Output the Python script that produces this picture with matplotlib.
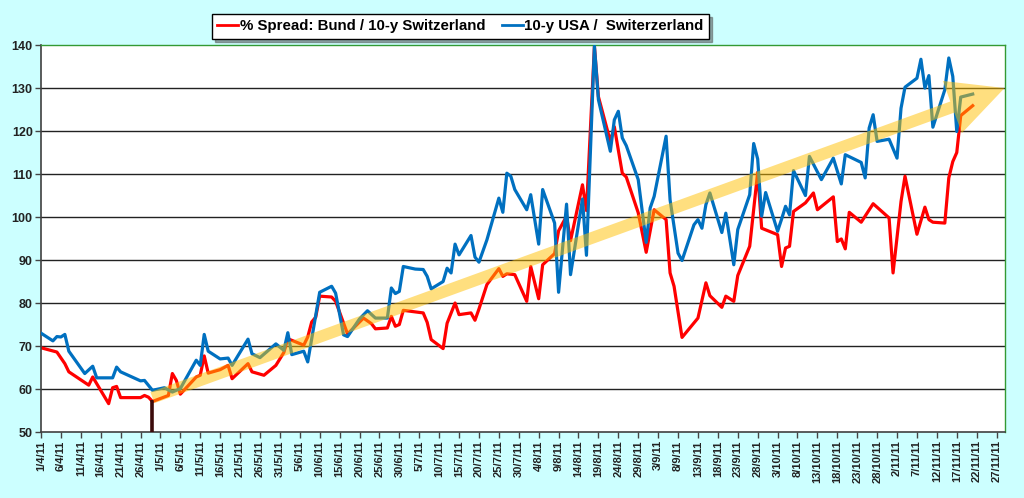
import pandas as pd
import matplotlib
matplotlib.use('Agg')
import matplotlib.pyplot as plt
import matplotlib.dates as mdates
from matplotlib.patches import FancyArrowPatch, ArrowStyle

# --- data (business days, 2011) ---
red_dates = [
    "2011-04-01", "2011-04-05", "2011-04-07", "2011-04-08", "2011-04-13", "2011-04-14",
    "2011-04-18", "2011-04-19", "2011-04-20", "2011-04-21", "2011-04-26", "2011-04-27",
    "2011-04-28", "2011-04-29", "2011-05-03", "2011-05-04", "2011-05-05", "2011-05-06",
    "2011-05-10", "2011-05-11", "2011-05-12", "2011-05-13", "2011-05-16", "2011-05-18",
    "2011-05-19", "2011-05-23", "2011-05-24", "2011-05-27", "2011-05-30", "2011-06-01",
    "2011-06-02", "2011-06-06", "2011-06-07", "2011-06-08", "2011-06-09", "2011-06-10",
    "2011-06-13", "2011-06-14", "2011-06-17", "2011-06-21", "2011-06-23", "2011-06-24",
    "2011-06-27", "2011-06-28", "2011-06-29", "2011-06-30", "2011-07-01", "2011-07-06",
    "2011-07-07", "2011-07-08", "2011-07-11", "2011-07-12", "2011-07-14", "2011-07-15",
    "2011-07-18", "2011-07-19", "2011-07-20", "2011-07-22", "2011-07-25", "2011-07-26",
    "2011-07-27", "2011-07-29", "2011-08-01", "2011-08-02", "2011-08-04", "2011-08-05",
    "2011-08-08", "2011-08-09", "2011-08-11", "2011-08-12", "2011-08-15", "2011-08-16",
    "2011-08-18", "2011-08-19", "2011-08-22", "2011-08-23", "2011-08-25", "2011-08-26",
    "2011-08-29", "2011-08-31", "2011-09-02", "2011-09-05", "2011-09-06", "2011-09-07",
    "2011-09-09", "2011-09-13", "2011-09-15", "2011-09-16", "2011-09-19", "2011-09-20",
    "2011-09-22", "2011-09-23", "2011-09-26", "2011-09-28", "2011-09-29", "2011-10-03",
    "2011-10-04", "2011-10-05", "2011-10-06", "2011-10-07", "2011-10-10", "2011-10-12",
    "2011-10-13", "2011-10-17", "2011-10-18", "2011-10-19", "2011-10-20", "2011-10-21",
    "2011-10-24", "2011-10-27", "2011-10-31", "2011-11-01", "2011-11-03", "2011-11-04",
    "2011-11-07", "2011-11-09", "2011-11-10", "2011-11-11", "2011-11-14", "2011-11-15",
    "2011-11-16", "2011-11-17", "2011-11-18", "2011-11-21",
]
red_vals = [
    69.6, 68.6, 65.9, 64.0, 60.9, 62.8,
    56.6, 60.3, 60.6, 58.0, 58.0, 58.5,
    58.1, 57.1, 58.5, 63.6, 62.0, 58.8,
    62.8, 63.2, 67.7, 63.7, 64.5, 65.5,
    62.4, 65.9, 64.0, 63.2, 65.5, 68.5,
    71.7, 70.2, 72.1, 75.6, 76.7, 81.6,
    81.4, 80.4, 72.8, 76.5, 75.2, 74.0,
    74.2, 76.9, 74.6, 75.0, 78.3, 77.7,
    75.5, 71.5, 69.4, 75.3, 80.0, 77.3,
    77.7, 76.0, 78.6, 84.3, 88.0, 86.2,
    86.8, 86.6, 80.4, 88.5, 81.0, 88.9,
    91.5, 96.8, 100.2, 94.5, 107.5, 101.5,
    139.7, 128.0, 117.6, 121.0, 110.2, 109.3,
    101.0, 91.8, 101.7, 99.4, 87.0, 83.9,
    72.0, 76.5, 84.7, 81.7, 79.0, 81.6,
    80.4, 86.4, 93.2, 110.4, 97.4, 95.9,
    88.5, 92.8, 93.2, 101.3, 103.3, 105.6,
    101.7, 104.7, 94.3, 94.9, 92.6, 101.1,
    98.8, 103.1, 99.8, 87.0, 103.6, 109.5,
    96.0, 102.3, 99.4, 98.8, 98.6, 109.1,
    112.9, 115.0, 123.6, 125.9,
]

blue_dates = [
    "2011-04-01", "2011-04-04", "2011-04-05", "2011-04-06", "2011-04-07", "2011-04-08",
    "2011-04-12", "2011-04-14", "2011-04-15", "2011-04-19", "2011-04-20", "2011-04-21",
    "2011-04-26", "2011-04-27", "2011-04-29", "2011-05-02", "2011-05-04", "2011-05-06",
    "2011-05-10", "2011-05-11", "2011-05-12", "2011-05-13", "2011-05-16", "2011-05-18",
    "2011-05-19", "2011-05-23", "2011-05-24", "2011-05-26", "2011-05-30", "2011-06-01",
    "2011-06-02", "2011-06-03", "2011-06-06", "2011-06-07", "2011-06-10", "2011-06-13",
    "2011-06-14", "2011-06-16", "2011-06-17", "2011-06-20", "2011-06-22", "2011-06-24",
    "2011-06-27", "2011-06-28", "2011-06-29", "2011-06-30", "2011-07-01", "2011-07-04",
    "2011-07-06", "2011-07-07", "2011-07-08", "2011-07-11", "2011-07-12", "2011-07-13",
    "2011-07-14", "2011-07-15", "2011-07-18", "2011-07-19", "2011-07-20", "2011-07-22",
    "2011-07-25", "2011-07-26", "2011-07-27", "2011-07-28", "2011-07-29", "2011-08-01",
    "2011-08-02", "2011-08-04", "2011-08-05", "2011-08-08", "2011-08-09", "2011-08-11",
    "2011-08-12", "2011-08-15", "2011-08-16", "2011-08-18", "2011-08-19", "2011-08-22",
    "2011-08-23", "2011-08-24", "2011-08-25", "2011-08-26", "2011-08-29", "2011-08-31",
    "2011-09-01", "2011-09-02", "2011-09-05", "2011-09-06", "2011-09-08", "2011-09-09",
    "2011-09-12", "2011-09-13", "2011-09-14", "2011-09-15", "2011-09-16", "2011-09-19",
    "2011-09-20", "2011-09-22", "2011-09-23", "2011-09-26", "2011-09-27", "2011-09-28",
    "2011-09-29", "2011-09-30", "2011-10-03", "2011-10-04", "2011-10-05", "2011-10-06",
    "2011-10-07", "2011-10-10", "2011-10-11", "2011-10-14", "2011-10-17", "2011-10-19",
    "2011-10-20", "2011-10-24", "2011-10-25", "2011-10-26", "2011-10-27", "2011-10-28",
    "2011-10-31", "2011-11-02", "2011-11-03", "2011-11-04", "2011-11-07", "2011-11-08",
    "2011-11-09", "2011-11-10", "2011-11-11", "2011-11-14", "2011-11-15", "2011-11-16",
    "2011-11-17", "2011-11-18", "2011-11-21",
]
blue_vals = [
    73.0, 71.2, 72.2, 72.1, 72.7, 68.8,
    63.6, 65.3, 62.6, 62.6, 65.1, 64.0,
    61.9, 62.0, 59.7, 60.3, 59.3, 60.1,
    66.7, 65.5, 72.7, 68.8, 67.0, 67.2,
    65.5, 71.6, 68.2, 67.3, 70.5, 69.0,
    73.1, 68.0, 68.8, 66.3, 82.5, 83.9,
    82.3, 72.6, 72.2, 76.3, 78.2, 76.5,
    76.5, 83.5, 82.2, 82.7, 88.5, 87.9,
    87.8, 86.2, 83.3, 85.0, 88.1, 87.0,
    93.7, 91.2, 95.7, 90.7, 89.5, 94.7,
    104.4, 101.1, 110.2, 109.5, 106.4, 101.7,
    105.2, 93.7, 106.4, 98.6, 82.5, 103.0,
    86.6, 104.2, 91.1, 139.7, 127.3, 115.3,
    122.6, 124.6, 118.4, 116.6, 108.7, 94.1,
    102.1, 104.8, 118.8, 104.0, 91.6, 89.9,
    98.2, 99.4, 97.4, 102.9, 105.6, 96.4,
    100.9, 88.9, 97.1, 105.2, 117.1, 113.5,
    100.2, 105.7, 96.7, 99.5, 102.5, 100.5,
    110.8, 105.0, 114.1, 108.7, 113.7, 107.7,
    114.5, 112.7, 109.1, 120.7, 123.8, 117.6,
    118.1, 113.7, 125.3, 130.2, 132.3, 136.7,
    130.0, 132.9, 120.9, 129.6, 137.0, 132.7,
    119.9, 127.9, 128.6,
]

red_label = "% Spread: Bund / 10-y Switzerland"
blue_label = "10-y USA /  Switerzerland"

# trend arrow (start -> end) and the small dark marker line
arrow_start = ("2011-04-29", 58.0)
arrow_end = ("2011-11-29", 130.0)
marker_date = "2011-04-29"
marker_range = (50, 57.5)

tick_start, tick_end = "2011-04-01", "2011-11-27"
x_min, x_max = "2011-04-01", "2011-11-29"
y_min, y_max, y_step = 50, 140, 10

plt.rcParams['font.family'] = ['Liberation Sans', 'DejaVu Sans']

fig = plt.figure(figsize=(10.24, 4.98), dpi=100, facecolor='#CCFFFF')
ax = fig.add_axes([0.040, 0.1325, 0.941, 0.777])
ax.set_facecolor('white')

rd = pd.to_datetime(red_dates)
bd = pd.to_datetime(blue_dates)

for y in range(y_min + y_step, y_max, y_step):
    ax.axhline(y, color='#222222', lw=1.0, zorder=1)

ax.plot(bd, blue_vals, color='#0070C0', lw=2.3, label=blue_label, zorder=3,
        solid_joinstyle='round')
ax.plot(rd, red_vals, color='#FF0000', lw=2.3, label=red_label, zorder=2,
        solid_joinstyle='round')

ax.vlines(pd.Timestamp(marker_date), marker_range[0], marker_range[1],
          color='#3B0A0A', lw=2.6, zorder=4)

p0 = (mdates.date2num(pd.Timestamp(arrow_start[0])), arrow_start[1])
p1 = (mdates.date2num(pd.Timestamp(arrow_end[0])), arrow_end[1])
arrow = FancyArrowPatch(p0, p1,
                        arrowstyle=ArrowStyle.Simple(head_length=4.0, head_width=4.0, tail_width=0.85),
                        mutation_scale=10, color='#FFC000', alpha=0.5, lw=0,
                        shrinkA=0, shrinkB=0, zorder=5, clip_on=False)
ax.add_patch(arrow)

ax.set_xlim(pd.Timestamp(x_min), pd.Timestamp(x_max))
ax.set_ylim(y_min, y_max)
ax.set_yticks(range(y_min, y_max + 1, y_step))

ticks = pd.date_range(tick_start, tick_end, freq='5D')
ax.set_xticks(ticks)
ax.set_xticklabels([f"{d.day}/{d.month}/{d.strftime('%y')}" for d in ticks],
                   rotation=90, fontsize=8, fontweight='bold', color='#222222')
for lab in ax.get_yticklabels():
    lab.set_fontsize(9)
    lab.set_fontweight('bold')
    lab.set_color('#222222')

ax.tick_params(axis='both', direction='out', length=4, width=1, color='#444444', pad=2)

for side in ['left', 'bottom']:
    ax.spines[side].set_color('#404040')
    ax.spines[side].set_linewidth(1.2)
for side in ['top', 'right']:
    ax.spines[side].set_color('#339933')
    ax.spines[side].set_linewidth(1.0)

handles, labels = ax.get_legend_handles_labels()
leg = fig.legend(handles[::-1], labels[::-1], loc='center', bbox_to_anchor=(0.4497, 0.9468),
                 ncol=2, frameon=True, fancybox=False, shadow=True, edgecolor='black',
                 framealpha=1, handlelength=1.4, handletextpad=0.1, columnspacing=1.1,
                 borderpad=0.35, prop={'weight': 'bold', 'size': 10.8})
leg.get_frame().set_linewidth(1.0)
for line in leg.get_lines():
    line.set_linewidth(2.0)

fig.savefig('out.png', dpi=100, facecolor=fig.get_facecolor())
